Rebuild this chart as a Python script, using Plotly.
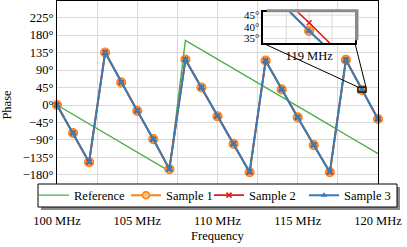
import plotly.graph_objects as go

freq = [100, 101, 102, 103, 104, 105, 106, 107, 108, 109, 110,
        111, 112, 113, 114, 115, 116, 117, 118, 119, 120]
reference = [0, -24, -48.5, -73, -97, -121, -145.5, -170, 166, 142, 117.5,
             93, 69, 45, 20.5, -4, -28, -52, -76.5, -101, -125]
sample1 = [0, -72, -147, 135, 58, -15, -88, -165, 117, 45, -29,
           -100, -173, 114, 40, -32, -103, -173, 116, 38.2, -36]
sample2 = [0, -72, -147, 135, 58, -15, -88, -165, 117, 45, -29,
           -100, -173, 114, 40, -32, -103, -173, 116, 41.7, -36]
sample3 = [0, -72, -147, 135, 58, -15, -88, -165, 117, 45, -29,
           -100, -173, 114, 40, -32, -103, -173, 116, 38.2, -36]

x_ticks = [100, 102.5, 105, 107.5, 110, 112.5, 115, 117.5, 120]
x_labels = ["100 MHz", "", "105 MHz", "", "110 MHz", "", "115 MHz", "", "120 MHz"]
y_ticks = [-180, -135, -90, -45, 0, 45, 90, 135, 180, 225]
y_labels = [("\u2212" if v < 0 else "") + f"{abs(v)}°" for v in y_ticks]

inset_xr = [118.75, 119.25]
inset_yr = [32.9, 46.2]
inset_xgrid = [118.875, 119, 119.125]
inset_yticks = [35, 40, 45]
inset_ylabels = [f"{v}°" for v in inset_yticks]

XR = [100, 120]
YR = [-267.5, 267.5]

W, H = 407, 247
ML, MR, MT, MB = 57, 29, 1, 38
PW, PH = W - ML - MR, H - MT - MB

def px2paper_x(px):
    return (px - ML) / PW

def px2paper_y(py):
    return (H - MB - py) / PH

def d2p_x(v):
    return (v - XR[0]) / (XR[1] - XR[0])

def d2p_y(v):
    return (v - YR[0]) / (YR[1] - YR[0])

FONT = "Liberation Serif"
FS = 12.5
TF = dict(family=FONT, size=FS, color="black")
TF_IN = dict(family=FONT, size=11, color="black")
C_REF, C_S1, C_S2, C_S3 = "#4daf4a", "#ff8214", "#e41a1c", "#377eb8"
S1_FILL = "#fb9a45"
GRID = "#d9d9d9"

fig = go.Figure()

def add_series(xa, ya, clip):
    fig.add_trace(go.Scatter(x=freq, y=reference, mode="lines", name="Reference",
                             line=dict(color=C_REF, width=1.4), xaxis=xa, yaxis=ya,
                             showlegend=False, cliponaxis=clip))
    fig.add_trace(go.Scatter(x=freq, y=sample1, mode="lines+markers", name="Sample 1",
                             line=dict(color=C_S1, width=2),
                             marker=dict(symbol="circle", size=9, color=S1_FILL,
                                         line=dict(color=C_S1, width=1.2)),
                             xaxis=xa, yaxis=ya, showlegend=False, cliponaxis=clip))
    fig.add_trace(go.Scatter(x=freq, y=sample2, mode="lines+markers", name="Sample 2",
                             line=dict(color=C_S2, width=1.6),
                             marker=dict(symbol="x-thin", size=5,
                                         line=dict(color=C_S2, width=1.5)),
                             xaxis=xa, yaxis=ya, showlegend=False, cliponaxis=clip))
    fig.add_trace(go.Scatter(x=freq, y=sample3, mode="lines+markers", name="Sample 3",
                             line=dict(color=C_S3, width=2),
                             marker=dict(symbol="triangle-up", size=7, color=C_S3,
                                         line=dict(width=0)),
                             xaxis=xa, yaxis=ya, showlegend=False, cliponaxis=clip))

add_series("x", "y", False)
add_series("x2", "y2", True)

# legend-only entries (smaller symbols, as in the reference legend)
leg_entries = [
    ("Reference", "lines", dict(color=C_REF, width=1.4), None, "legend", 47),
    ("Sample 1", "lines+markers", dict(color=C_S1, width=2),
     dict(symbol="circle", size=7, color="#fdc08a", line=dict(color=C_S1, width=1.5)), "legend", 0),
    ("Sample 2", "lines+markers", dict(color=C_S2, width=1.6),
     dict(symbol="x-thin", size=5, line=dict(color=C_S2, width=1.5)), "legend2", 50),
    ("Sample 3", "lines+markers", dict(color=C_S3, width=2),
     dict(symbol="triangle-up", size=6, color=C_S3, line=dict(width=0)), "legend2", 0),
]
for name, mode, line, marker, leg, lw in leg_entries:
    kw = dict(x=[None], y=[None], mode=mode, name=name, line=line, legend=leg,
              showlegend=True)
    if marker:
        kw["marker"] = marker
    if lw:
        kw["legendwidth"] = lw
    fig.add_trace(go.Scatter(**kw))

# inset geometry (pixels)
ix0, ix1, iy0, iy1 = 263.3, 355.0, 12.3, 43.3
inset_xd = [px2paper_x(ix0), px2paper_x(ix1)]
inset_yd = [px2paper_y(iy1), px2paper_y(iy0)]

shapes = []
shapes.append(dict(type="rect", xref="x2", yref="y2", layer="between",
                   x0=inset_xr[0], x1=inset_xr[1], y0=inset_yr[0], y1=inset_yr[1],
                   fillcolor="white", line=dict(width=0)))
for g in inset_xgrid:
    shapes.append(dict(type="line", xref="x2", yref="y2", layer="between",
                       x0=g, x1=g, y0=inset_yr[0], y1=inset_yr[1],
                       line=dict(color=GRID, width=1)))
for g in inset_yticks:
    shapes.append(dict(type="line", xref="x2", yref="y2", layer="between",
                       x0=inset_xr[0], x1=inset_xr[1], y0=g, y1=g,
                       line=dict(color=GRID, width=1)))
# inset shadow (L-shape, top and right)
sx, sy = 3.5, 3.0
pts = [(ix0 + sx, iy0), (ix0 + sx, iy0 - sy), (ix1 + sx, iy0 - sy),
       (ix1 + sx, iy1 - sy), (ix1, iy1 - sy), (ix1, iy0)]
path = "M " + " L ".join(f"{px2paper_x(a):.5f},{px2paper_y(b):.5f}" for a, b in pts) + " Z"
shapes.append(dict(type="path", xref="paper", yref="paper", layer="above", path=path,
                   fillcolor="#8a8a8a", line=dict(width=0)))
# zoom box in main plot
shapes.append(dict(type="rect", xref="x", yref="y", layer="above",
                   x0=inset_xr[0], x1=inset_xr[1], y0=inset_yr[0], y1=inset_yr[1],
                   line=dict(color="black", width=1.2)))
# connecting lines
shapes.append(dict(type="line", xref="paper", yref="paper", layer="above",
                   x0=inset_xd[0], y0=inset_yd[0], x1=d2p_x(inset_xr[0]), y1=d2p_y(inset_yr[1]),
                   line=dict(color="black", width=1)))
shapes.append(dict(type="line", xref="paper", yref="paper", layer="above",
                   x0=inset_xd[1], y0=inset_yd[0], x1=d2p_x(inset_xr[1]), y1=d2p_y(inset_yr[1]),
                   line=dict(color="black", width=1)))
# legend shadow and box
lx0, lx1, ly0, ly1 = 38, 397, 184, 207
shapes.append(dict(type="rect", xref="paper", yref="paper", layer="above",
                   x0=px2paper_x(lx0 + 3), x1=px2paper_x(lx1 + 3),
                   y0=px2paper_y(ly1 + 3), y1=px2paper_y(ly0 + 3),
                   fillcolor="#8a8a8a", line=dict(width=0)))
shapes.append(dict(type="rect", xref="paper", yref="paper", layer="above",
                   x0=px2paper_x(lx0), x1=px2paper_x(lx1),
                   y0=px2paper_y(ly1), y1=px2paper_y(ly0),
                   fillcolor="white", line=dict(color="black", width=1)))

leg_common = dict(orientation="h", xanchor="left", yanchor="middle",
                  y=px2paper_y(195.5), bgcolor="rgba(0,0,0,0)", borderwidth=0,
                  font=TF, itemwidth=30)

axis_common = dict(zeroline=False, showline=True, mirror=True, linecolor="black",
                   ticks="", automargin=False)

fig.update_layout(
    template="none",
    width=W, height=H,
    margin=dict(l=ML, r=MR, t=MT, b=MB),
    paper_bgcolor="white", plot_bgcolor="white",
    font=TF,
    shapes=shapes,
    showlegend=True,
    legend=dict(x=px2paper_x(34), **leg_common),
    legend2=dict(x=px2paper_x(209), **leg_common),
    xaxis=dict(range=XR, domain=[0, 1], tickvals=x_ticks, ticktext=x_labels,
               showgrid=True, gridcolor=GRID, gridwidth=1, linewidth=1, tickfont=TF,
               title=dict(text="Frequency", font=TF, standoff=4), **axis_common),
    yaxis=dict(range=YR, domain=[0, 1], tickvals=y_ticks, ticktext=y_labels,
               showgrid=True, gridcolor=GRID, gridwidth=1, linewidth=1, tickfont=TF,
               title=dict(text="Phase", font=TF, standoff=12), **axis_common),
    xaxis2=dict(range=inset_xr, domain=inset_xd, anchor="y2", tickvals=[119],
                ticktext=["119 MHz"], showgrid=False, linewidth=1.5, tickfont=TF,
                **axis_common),
    yaxis2=dict(range=inset_yr, domain=inset_yd, anchor="x2", tickvals=inset_yticks,
                ticktext=inset_ylabels, showgrid=False, linewidth=1.5, tickfont=TF_IN,
                **axis_common),
)

fig.write_html("out.html",
               config={"displayModeBar": False},
               post_script="document.body.style.margin='0px';"
                           "document.body.style.overflow='hidden';")
